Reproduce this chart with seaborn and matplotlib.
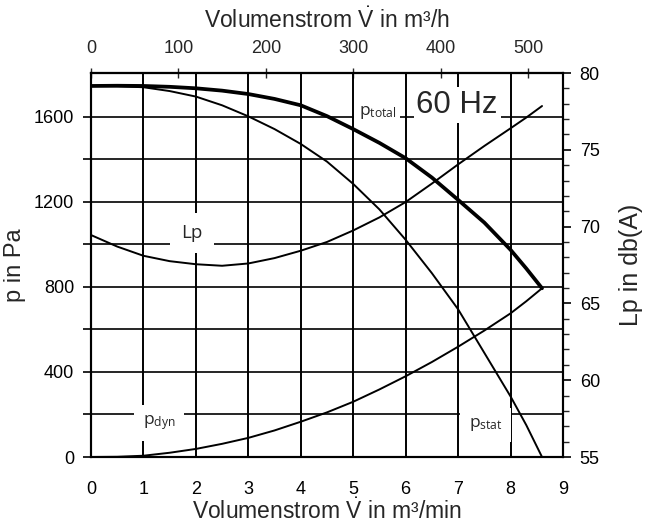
import matplotlib
matplotlib.use("Agg")
import matplotlib.pyplot as plt
import seaborn as sns
import pandas as pd

# Volumenstrom in m3/min
flow = [0, 0.5, 1, 1.5, 2, 2.5, 3, 3.5, 4, 4.5, 5, 5.5, 6, 6.5, 7, 7.5, 8, 8.3, 8.6]

# Druckkurven in Pa
p_total = [1746, 1747, 1746, 1742, 1735, 1724, 1708, 1685, 1655, 1604, 1543, 1478,
           1406, 1315, 1210, 1103, 975, 887, 794]
p_stat = [1746, 1745, 1740, 1722, 1696, 1655, 1603, 1543, 1473, 1390, 1285, 1165,
          1022, 865, 695, 490, 285, 150, 0]
p_dyn = [0, 1, 6, 20, 38, 62, 90, 125, 166, 210, 260, 318, 380, 447, 519, 595, 676, 733, 794]

# Schalldruckpegel in dB(A)
lp = [69.45, 68.7, 68.1, 67.75, 67.55, 67.45, 67.6, 67.95, 68.43, 69.0, 69.75, 70.6,
      71.6, 72.8, 74.05, 75.25, 76.4, 77.1, 77.85]

df = pd.DataFrame({"flow": flow, "p_total": p_total, "p_stat": p_stat,
                   "p_dyn": p_dyn, "lp": lp})

sns.set_theme(style="white")
plt.rcParams["font.family"] = ["Liberation Sans", "DejaVu Sans"]
plt.rcParams["axes.edgecolor"] = "black"
plt.rcParams["axes.linewidth"] = 1.5
plt.rcParams["mathtext.fontset"] = "custom"
plt.rcParams["mathtext.rm"] = "Liberation Sans"
plt.rcParams["mathtext.it"] = "Liberation Sans:italic"

fig = plt.figure(figsize=(6.52, 5.25), dpi=100)
ax = fig.add_axes([91 / 652, 1 - 457 / 525, (563 - 91) / 652, (457 - 73) / 525])
ax2 = ax.twinx()

# pressure curves
sns.lineplot(data=df, x="flow", y="p_total", ax=ax, color="black", lw=2.7, zorder=3)
sns.lineplot(data=df, x="flow", y="p_stat", ax=ax, color="black", lw=1.4, zorder=3)
sns.lineplot(data=df, x="flow", y="p_dyn", ax=ax, color="black", lw=1.4, zorder=3)
# sound level on right axis
sns.lineplot(data=df, x="flow", y="lp", ax=ax2, color="black", lw=1.4)

ax.set_xlim(0, 9)
ax.set_ylim(0, 1807)
ax2.set_ylim(55, 80)

ax.set_xticks(range(10))
ax.set_yticks([0, 400, 800, 1200, 1600])
ax.set_yticks([200, 600, 1000, 1400], minor=True)
ax.grid(True, which="major", axis="x", color="black", lw=1.4)
ax.grid(True, which="both", axis="y", color="black", lw=1.2)
ax.set_axisbelow(True)

ax.tick_params(axis="both", which="both", direction="out", colors="black",
               labelsize=13, width=1.2)
ax.tick_params(axis="y", which="both", length=6, pad=6)
ax.tick_params(axis="x", length=4, pad=13)

ax2.set_yticks(range(55, 81, 5))
ax2.set_yticks(range(55, 81), minor=True)
ax2.tick_params(axis="y", which="major", direction="out", length=6, width=1.2,
                labelsize=13, colors="black", pad=6)
ax2.tick_params(axis="y", which="minor", direction="out", length=4, width=1.0)
ax2.grid(False)

ax.set_xlabel(r"Volumenstrom $\dot{\mathrm{V}}$ in m³/min", fontsize=16.5, labelpad=1)
ax.set_ylabel("p in Pa", fontsize=17, labelpad=6)
ax2.set_ylabel("Lp in db(A)", fontsize=18, labelpad=14)

top = ax.secondary_xaxis("top", functions=(lambda v: v * 60, lambda v: v / 60))
top.set_xticks(range(0, 501, 100))
top.tick_params(direction="inout", length=7, width=1.0, labelsize=13, pad=8)
top.set_xlabel(r"Volumenstrom $\dot{\mathrm{V}}$ in m³/h", fontsize=16.5, labelpad=9)

# curve labels with white boxes that break the grid
lab_font = ["Open Sans", "DejaVu Sans"]
ax2.text(5.46, 1623, "p$_\\mathregular{total}$", transform=ax.transData, fontsize=12.5,
         family=lab_font, ha="center", va="center",
         bbox=dict(facecolor="white", edgecolor="none", pad=3), zorder=10)
ax2.text(6.98, 1655, "60 Hz", transform=ax.transData, fontsize=22.5,
         ha="center", va="center", bbox=dict(facecolor="white", edgecolor="none", pad=2),
         zorder=10)
ax2.text(1.93, 1054, "Lp", transform=ax.transData, fontsize=13.5, family=lab_font,
         ha="center", va="center", bbox=dict(facecolor="white", edgecolor="none", pad=8),
         zorder=10)
ax2.text(1.3, 160, "p$_\\mathregular{dyn}$", transform=ax.transData, fontsize=12.5,
         family=lab_font, ha="center", va="center",
         bbox=dict(facecolor="white", edgecolor="none", pad=6), zorder=10)
ax2.text(7.52, 151, "p$_\\mathregular{stat}$", transform=ax.transData, fontsize=12.5,
         family=lab_font, ha="center", va="center",
         bbox=dict(facecolor="white", edgecolor="none", pad=6), zorder=10)

fig.savefig("out.png", dpi=100)
